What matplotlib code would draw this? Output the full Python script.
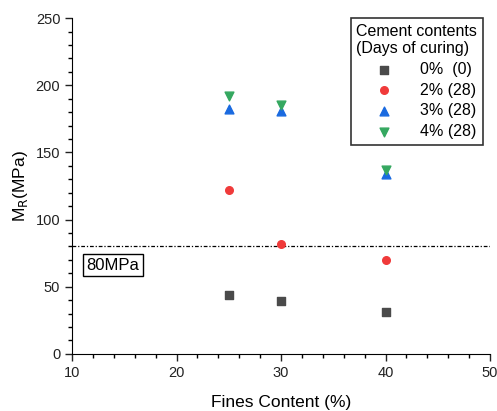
import numpy as np
import matplotlib
matplotlib.use('Agg')
import matplotlib.pyplot as plt

plt.rcParams['font.family'] = ['Liberation Sans', 'DejaVu Sans']

fines = [25, 30, 40]
mr_0 = [44, 39, 31]
mr_2 = [122, 82, 70]
mr_3 = [182, 181, 134]
mr_4 = [192, 185, 137]
labels = ['0%  (0)', '2% (28)', '3% (28)', '4% (28)']
limit = 80

fig = plt.figure(figsize=(4.97, 4.11), dpi=100)
ax = fig.add_axes([0.145, 0.139, 0.841, 0.817])

ax.scatter(fines, mr_0, marker='s', s=30, color='#4a4a4a', label=labels[0], zorder=3)
ax.scatter(fines, mr_2, marker='o', s=30, color='#f03a3a', label=labels[1], zorder=3)
ax.scatter(fines, mr_3, marker='^', s=40, color='#1a6ae0', label=labels[2], zorder=3)
ax.scatter(fines, mr_4, marker='v', s=40, color='#35a860', label=labels[3], zorder=3)

ax.axhline(limit, color='black', lw=0.9, ls=(0, (3, 1.5, 1, 1.5)), zorder=2)
ax.text(11.4, 66, '80MPa', fontsize=12, va='center', ha='left',
        bbox=dict(boxstyle='square,pad=0.2', fc='white', ec='black', lw=1))

ax.set_xlim(10, 50)
ax.set_ylim(0, 250)
ax.set_xticks(np.arange(10, 51, 10))
ax.set_xticks(np.arange(10, 51, 2), minor=True)
ax.set_yticks(np.arange(0, 251, 50))
ax.set_yticks(np.arange(0, 251, 10), minor=True)
ax.tick_params(which='major', length=5, width=1, labelsize=10.5, colors='#222222')
ax.tick_params(which='minor', length=3, width=1)
for side in ['top', 'right']:
    ax.spines[side].set_visible(False)

ax.set_xlabel('Fines Content (%)', fontsize=12.5, labelpad=11)
ax.set_ylabel(r'M$_\mathrm{R}$(MPa)', fontsize=12.5)

leg = ax.legend(title='Cement contents\n(Days of curing)', loc='upper right',
                bbox_to_anchor=(0.983, 1.0), borderaxespad=0, fontsize=11.5,
                title_fontsize=11.5, frameon=True, fancybox=False, edgecolor='black',
                handlelength=3.5, handletextpad=0.45, borderpad=0.35,
                labelspacing=0.36)
leg._legend_box.align = 'left'
leg.get_frame().set_linewidth(1.2)

fig.savefig('out.png', dpi=100)
